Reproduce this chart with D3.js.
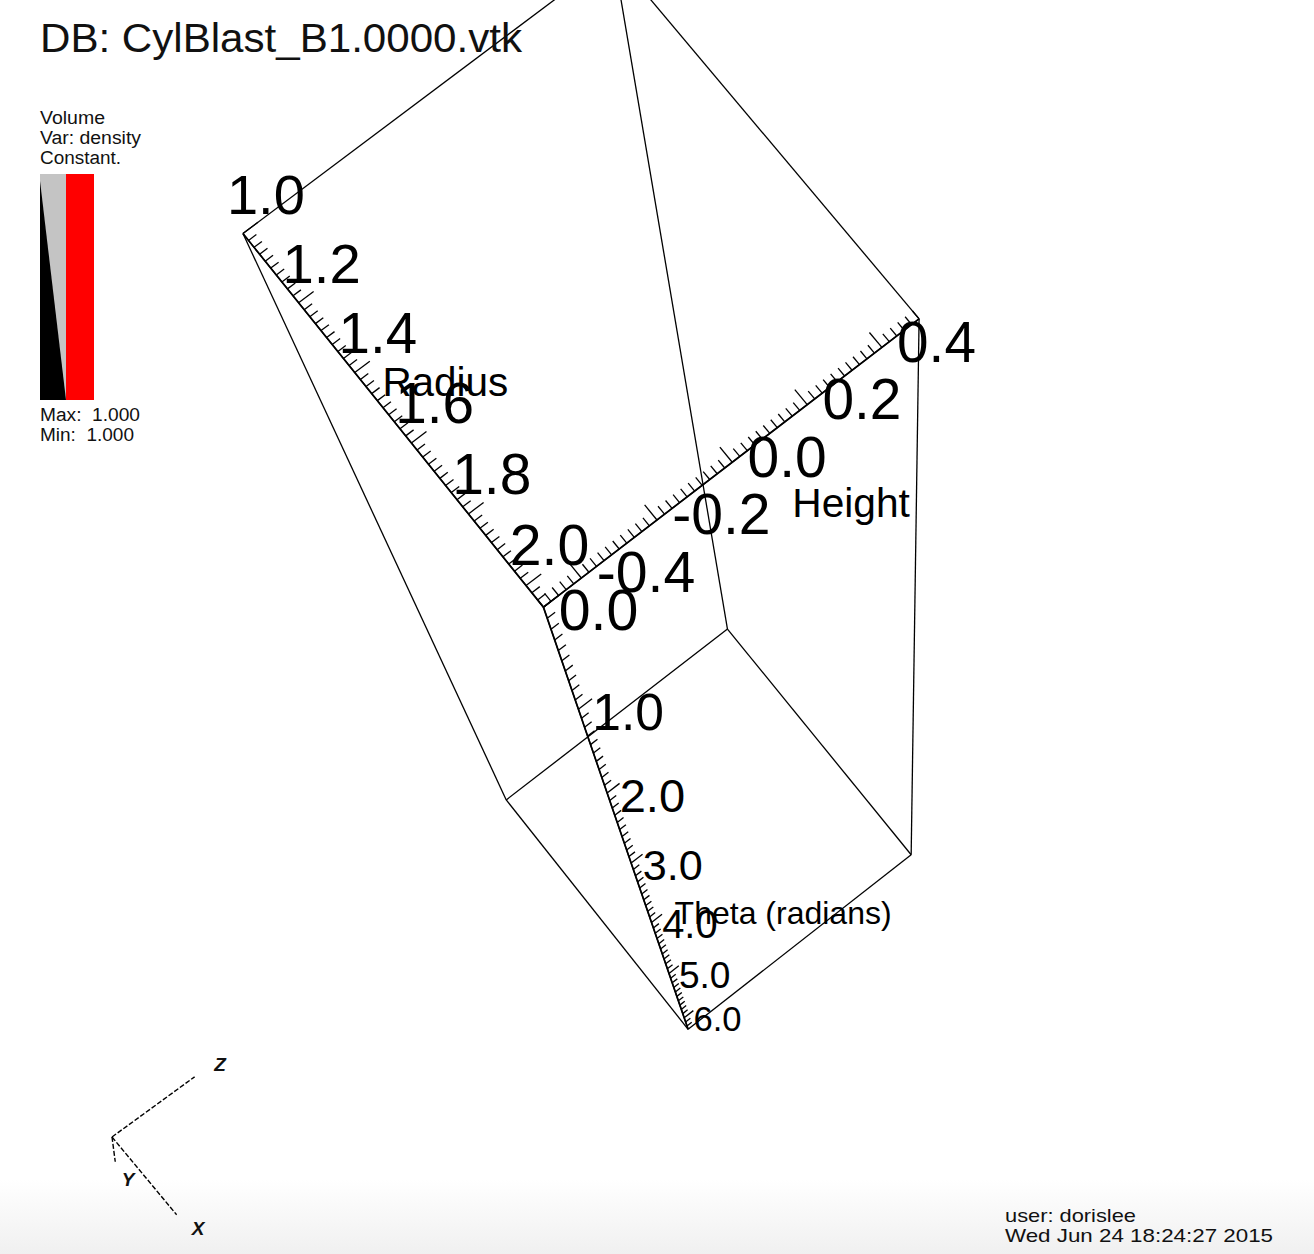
<!DOCTYPE html>
<html><head><meta charset="utf-8">
<script src="https://cdn.jsdelivr.net/npm/d3@7"></script>
<style>html,body{margin:0;padding:0;background:#fff;} svg{display:block;}</style>
</head><body><svg id="chart" width="1314" height="1254"></svg>
<script>
// ---------------- data ----------------
const titleText = "DB: CylBlast_B1.0000.vtk";
const legendLines = ["Volume", "Var: density", "Constant."];
const legendMax = 1.000, legendMin = 1.000;
const userLine = "user: dorislee";
const dateLine = "Wed Jun 24 18:24:27 2015";
const radiusExtent = [1.0, 2.06];
const thetaExtent = [0, 2 * Math.PI];
const heightExtent = [-0.5, 0.5];
const radiusTicks = [1.0, 1.2, 1.4, 1.6, 1.8, 2.0];
const thetaTicks = [0, 1, 2, 3, 4, 5, 6];
const heightTicks = [-0.4, -0.2, 0.0, 0.2, 0.4];
const radiusMinorStep = 0.02, thetaMinorStep = 0.1, heightMinorStep = 0.02;
const axisTitles = ["Radius", "Theta (radians)", "Height"];
const triadNames = ["X", "Y", "Z"];

// ---------------- view (perspective camera, unit box -> screen) ----------------
const cameraMatrix = [
  [288.395496, 602.280394, 377.052016, 242.951876],
  [360.122274, 1101.984564, -278.533727, 233.538900],
  [-0.022206, 0.669612, 0.010568, 1.000000]
];

const W = 1314, H = 1254;
const svg = d3.select("#chart");
const defs = svg.append("defs");
const grad = defs.append("linearGradient").attr("id","bg").attr("x1",0).attr("y1",0).attr("x2",0).attr("y2",1);
grad.append("stop").attr("offset","0%").attr("stop-color","#ffffff");
grad.append("stop").attr("offset","100%").attr("stop-color","#f0f0f0");
svg.append("rect").attr("width",W).attr("height",H).attr("fill","#fff");
svg.append("rect").attr("x",0).attr("y",1180).attr("width",W).attr("height",H-1180).attr("fill","url(#bg)");

const nx = d3.scaleLinear().domain(radiusExtent).range([0,1]);
const ny = d3.scaleLinear().domain(thetaExtent).range([0,1]);
const nz = d3.scaleLinear().domain(heightExtent).range([0,1]);
const P = cameraMatrix;
function project([X,Y,Z]){
  const w = P[2][0]*X+P[2][1]*Y+P[2][2]*Z+P[2][3];
  return {x:(P[0][0]*X+P[0][1]*Y+P[0][2]*Z+P[0][3])/w,
          y:(P[1][0]*X+P[1][1]*Y+P[1][2]*Z+P[1][3])/w,
          s:P[2][3]/w};
}

// bounding box edges
const corners = d3.cross([0,1], d3.cross([0,1],[0,1])).map(([a,[b,c]])=>[a,b,c]);
const edges = [];
corners.forEach(c=>[0,1,2].forEach(k=>{ if(c[k]===0){ const d=c.slice(); d[k]=1; edges.push([c,d]); } }));
svg.append("g").selectAll("line").data(edges).join("line")
  .attr("x1",d=>project(d[0]).x).attr("y1",d=>project(d[0]).y)
  .attr("x2",d=>project(d[1]).x).attr("y2",d=>project(d[1]).y)
  .attr("stroke","#000").attr("stroke-width",1.3);

const fmt = v=>{ const s = (Math.abs(v)<1e-9?0:v).toFixed(1); return s; };
const axes = [
  {title:axisTitles[0], scale:nx, dim:0, base:[0,0,0], tickDir:[0,0,1], major:radiusTicks, step:radiusMinorStep, ext:radiusExtent,
   labelOff:[-16,-40], labelSize:56, titleVal:d3.mean(radiusExtent), titleOff:[-9,-36], titleSize:40},
  {title:axisTitles[1], scale:ny, dim:1, base:[1,0,0], tickDir:[0,0,1], major:thetaTicks, step:thetaMinorStep, ext:thetaExtent,
   labelOff:[15,2], labelSize:56, titleVal:d3.mean(thetaExtent), titleOff:[53,53], titleSize:42},
  {title:axisTitles[2], scale:nz, dim:2, base:[1,0,0], tickDir:[-1,0,0], major:heightTicks, step:heightMinorStep, ext:heightExtent,
   labelOff:[15,-6], labelSize:56, titleVal:d3.mean(heightExtent), titleOff:[59,39], titleSize:40}
];
const minorLen = 0.021, majorLen = 0.04;
const font = "'Liberation Sans', Arial, sans-serif";

axes.forEach(ax=>{
  const g = svg.append("g");
  const pt = v=>{ const p = ax.base.slice(); p[ax.dim] = ax.scale(v); return p; };
  const tip = (v,len)=>pt(v).map((c,i)=>c+ax.tickDir[i]*len);
  const a0 = project(pt(ax.ext[0])), a1 = project(pt(ax.ext[1]));
  g.append("line").attr("x1",a0.x).attr("y1",a0.y).attr("x2",a1.x).attr("y2",a1.y)
    .attr("stroke","#000").attr("stroke-width",1.7);
  const i0 = Math.ceil(ax.ext[0]/ax.step - 1e-6), i1 = Math.floor(ax.ext[1]/ax.step + 1e-6);
  const minor = d3.range(i0, i1+1).map(i=>i*ax.step);
  const isMajor = v=>ax.major.some(m=>Math.abs(m-v)<1e-6);
  g.selectAll("line.tick").data(minor).join("line").attr("class","tick")
    .each(function(v){
      const a = project(pt(v)), b = project(tip(v, isMajor(v)?majorLen:minorLen));
      d3.select(this).attr("x1",a.x).attr("y1",a.y).attr("x2",b.x).attr("y2",b.y);
    })
    .attr("stroke","#000").attr("stroke-width",1.3);
  g.selectAll("text.lab").data(ax.major).join("text").attr("class","lab")
    .each(function(v){
      const a = project(pt(v)); const fs = ax.labelSize*a.s;
      d3.select(this).attr("x",a.x+ax.labelOff[0]*a.s).attr("y",a.y+ax.labelOff[1]*a.s+0.36*fs)
        .attr("font-size",fs.toFixed(2));
    })
    .attr("font-family",font).attr("fill","#000")
    .text(v=>fmt(v));
  const t = project(pt(ax.titleVal)); const tfs = ax.titleSize*t.s;
  g.append("text").attr("x",t.x+ax.titleOff[0]*t.s).attr("y",t.y+ax.titleOff[1]*t.s+0.36*tfs)
    .attr("font-size",tfs.toFixed(2)).attr("font-family",font).attr("fill","#000")
    .text(ax.title);
});

// ---------------- annotations ----------------
svg.append("text").attr("x",40).attr("y",52).attr("font-size",40).attr("font-family",font).attr("fill","#111")
  .attr("textLength",482).attr("lengthAdjust","spacingAndGlyphs").text(titleText);

const legW = [65, 101, 81];
svg.selectAll("text.leg").data(legendLines).join("text").attr("class","leg")
  .attr("x",40).attr("y",(d,i)=>124+i*20).attr("font-size",18).attr("font-family",font).attr("fill","#111")
  .attr("textLength",(d,i)=>legW[i]).attr("lengthAdjust","spacingAndGlyphs").text(d=>d);

// colour bar
const bar = {x:40, y:174, w:26, h:226};
const barY = d3.scaleLinear().domain([0,1]).range([bar.y+bar.h, bar.y]);
svg.append("rect").attr("x",bar.x).attr("y",barY(1)).attr("width",bar.w).attr("height",bar.h).attr("fill","#c4c4c4");
svg.append("path").attr("d",`M${bar.x},${barY(0.97)} L${bar.x},${barY(0)} L${bar.x+bar.w},${barY(0)} Z`).attr("fill","#000");
svg.append("rect").attr("x",bar.x+bar.w).attr("y",barY(1)).attr("width",28).attr("height",bar.h).attr("fill","#ff0000");

const f3 = d3.format(".3f");
svg.append("text").attr("x",40).attr("y",421).attr("font-size",18).attr("font-family",font).attr("fill","#111")
  .attr("textLength",100).attr("lengthAdjust","spacingAndGlyphs").attr("xml:space","preserve").text(`Max:  ${f3(legendMax)}`);
svg.append("text").attr("x",40).attr("y",441).attr("font-size",18).attr("font-family",font).attr("fill","#111")
  .attr("textLength",94).attr("lengthAdjust","spacingAndGlyphs").attr("xml:space","preserve").text(`Min:  ${f3(legendMin)}`);

svg.append("text").attr("x",1005).attr("y",1222).attr("font-size",19).attr("font-family",font).attr("fill","#111")
  .attr("textLength",131).attr("lengthAdjust","spacingAndGlyphs").text(userLine);
svg.append("text").attr("x",1005).attr("y",1242).attr("font-size",19).attr("font-family",font).attr("fill","#111")
  .attr("textLength",268).attr("lengthAdjust","spacingAndGlyphs").text(dateLine);

// triad
const triadOrigin = [112,1137];
const triadDirs = [[0.64,0.77],[0.13,0.99],[0.81,-0.59]];
const triadLens = [101,25,102];
const tg = svg.append("g");
triadNames.forEach((n,i)=>{
  const d = triadDirs[i], L = triadLens[i];
  tg.append("line").attr("x1",triadOrigin[0]).attr("y1",triadOrigin[1])
    .attr("x2",triadOrigin[0]+d[0]*L).attr("y2",triadOrigin[1]+d[1]*L)
    .attr("stroke","#000").attr("stroke-width",1.4).attr("stroke-dasharray","5,2");
});
const triadLabOff = [24, 22, 24];
tg.selectAll("text").data(triadNames).join("text")
  .attr("x",(d,i)=>triadOrigin[0]+triadDirs[i][0]*(triadLens[i]+triadLabOff[i])+(i===1?10:6))
  .attr("y",(d,i)=>triadOrigin[1]+triadDirs[i][1]*(triadLens[i]+triadLabOff[i])+(i===2?8:2))
  .attr("text-anchor","middle")
  .attr("font-size",19).attr("font-style","italic").attr("font-weight","bold").attr("font-family",font).attr("fill","#111")
  .text(d=>d);
</script>
</body></html>
